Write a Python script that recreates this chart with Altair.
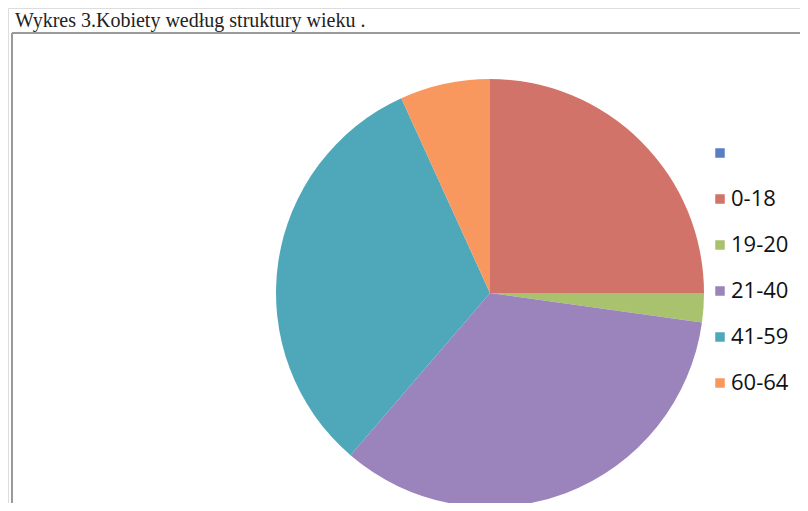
import altair as alt
import pandas as pd

# Data
categories = [" ", "0-18", "19-20", "21-40", "41-59", "60-64"]
shares = [0.0, 25.0, 2.2, 34.1, 31.9, 6.8]
colors = ["#5A7EC2", "#D2736A", "#A8C26E", "#9B84BC", "#4FA8B9", "#F8985E"]
title_text = ["Wykres 3.Kobiety według struktury wieku ."]

df = pd.DataFrame({"grupa": categories, "udzial": shares, "idx": list(range(len(categories)))})
tdf = pd.DataFrame({"t": title_text})

pie = alt.Chart(df).mark_arc(radius=214, stroke=None).encode(
    theta=alt.Theta("udzial:Q", stack=True),
    order=alt.Order("idx:Q"),
    color=alt.Color(
        "grupa:N",
        sort=categories,
        scale=alt.Scale(domain=categories, range=colors),
        legend=alt.Legend(
            title=None,
            orient="none",
            legendX=701,
            legendY=134,
            padding=0,
            symbolType="square",
            symbolSize=90,
            symbolStrokeWidth=0,
            labelFont="Open Sans",
            labelFontSize=22,
            labelColor="#111111",
            labelOffset=0,
            rowPadding=24,
        ),
    ),
    x=alt.value(482),
    y=alt.value(285),
)

border_top = alt.Chart(tdf).mark_rule(color="#9a9a9a", strokeWidth=2).encode(
    x=alt.value(4), x2=alt.value(800), y=alt.value(25)
)
border_left = alt.Chart(tdf).mark_rule(color="#9a9a9a", strokeWidth=2).encode(
    x=alt.value(4), y=alt.value(25), y2=alt.value(495)
)

title = alt.Chart(tdf).mark_text(
    font="Liberation Serif", fontSize=20, align="left", baseline="alphabetic", color="#222222"
).encode(text="t:N", x=alt.value(7), y=alt.value(19))

chart = alt.layer(border_top, border_left, pie, title).properties(
    width=792, height=495, padding=0, autosize=alt.AutoSizeParams(type="none")
).configure_view(stroke=None).configure(background="white")

chart.save("out.html", embed_options={"renderer": "svg", "actions": False})
